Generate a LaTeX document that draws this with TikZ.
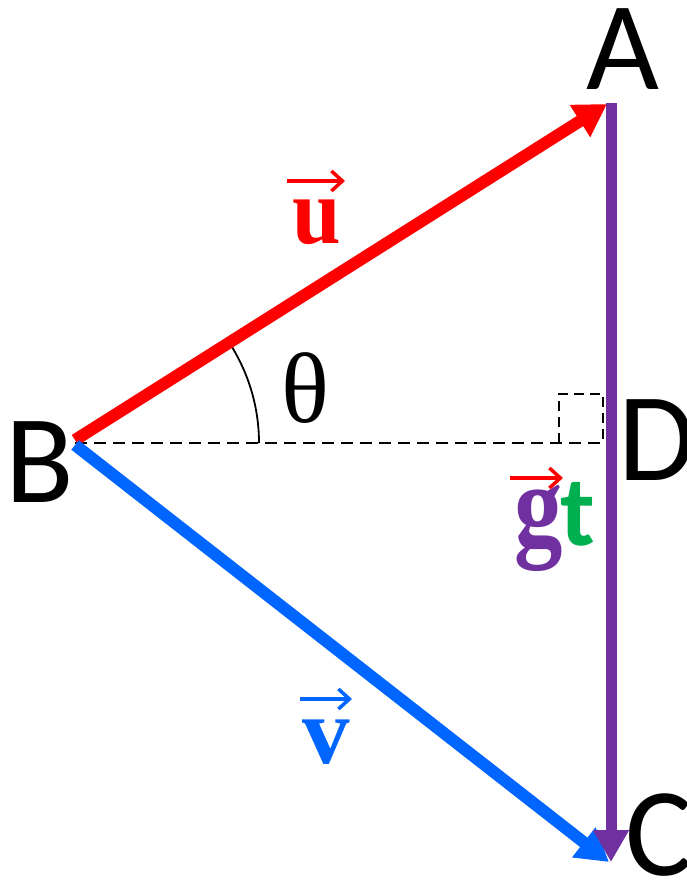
\documentclass[tikz,border=0pt]{standalone}
\usepackage{fontspec}
\usepackage{graphicx}
\usetikzlibrary{arrows.meta}
\newfontfamily\lblfont{Carlito}
\newfontfamily\serfont{Liberation Serif}
\definecolor{vred}{HTML}{FF0000}
\definecolor{vblue}{HTML}{0066FF}
\definecolor{vpurple}{HTML}{7030A0}
\definecolor{vgreen}{HTML}{00B050}
\tikzset{
  vertexlbl/.style={inner sep=0pt, anchor=base, font=\lblfont\fontsize{126}{126}\selectfont},
  vecline/.style={line width=12pt, -{Triangle[length=32pt,width=36pt]}},
  smallarrow/.style={line width=4pt, -{Straight Barb[length=11pt,width=20pt,line width=3.5pt]}},
  veclbl/.style={inner sep=0pt, anchor=base, font=\serfont\bfseries\fontsize{95}{95}\selectfont},
  helper/.style={black, line width=2pt, dash pattern=on 12pt off 7pt},
}
\begin{document}
\begin{tikzpicture}[x=1pt,y=-1pt]
\useasboundingbox (0,0) rectangle (687,880);
% key points
\coordinate (Bu) at (75,440);
\coordinate (Bv) at (75,445);
\coordinate (B) at (75,443);
\coordinate (A) at (611,103);
\coordinate (Au) at (607,104);
\coordinate (C) at (611,862);
\coordinate (Cv) at (609,862);
\coordinate (D) at (611,443);
\coordinate (arcend) at (259,443);
% dashed construction line
\draw[helper] (B) -- (D);
% right-angle mark
\coordinate (sq1) at (603,443);
\coordinate (sq2) at (559,443);
\coordinate (sq3) at (559,394);
\coordinate (sq4) at (603,394);
\draw[helper, dash pattern=on 10pt off 6pt] (sq2) -- (sq3) -- (sq4) -- (sq1);
% angle arc
\draw[black, line width=1.8pt] (arcend) arc[start angle=0, end angle=-32.3, radius=184];
% vectors
\draw[vecline, vred] (Bu) -- (Au);
\draw[vecline, vblue] (Bv) -- (Cv);
\draw[line width=11pt, vpurple, -{Triangle[length=32pt,width=34pt]}] (A) -- (C);
% vertex labels
\node[vertexlbl] (lA) at (623,90) {A};
\node[vertexlbl] (lB) at (40,502) {B};
\node[vertexlbl] (lC) at (659,875) {C};
\node[vertexlbl] (lD) at (657,480) {D};
% theta
\node[inner sep=0pt, anchor=base, font=\serfont\fontsize{100}{100}\selectfont] (th) at (305,422) {θ};
% vector labels
\node[veclbl, vred] (lu) at (317,243) {\scalebox{0.92}[1]{u}};
\coordinate (ua) at (287,181);
\coordinate (ub) at (345,181);
\draw[smallarrow, vred] (ua) -- (ub);
\node[veclbl, vblue] (lv) at (326,763) {v};
\coordinate (va) at (300,699);
\coordinate (vb) at (352,699);
\draw[smallarrow, vblue] (va) -- (vb);
\node[inner sep=0pt, anchor=base, font=\serfont\bfseries\fontsize{118}{118}\selectfont, vpurple] (lg) at (539,545) {\scalebox{0.82}[1]{g}};
\node[inner sep=0pt, anchor=base, font=\lblfont\bfseries\fontsize{100}{100}\selectfont, vgreen] (lt) at (578,545) {t};
\coordinate (ga) at (510,478);
\coordinate (gb) at (563,478);
\draw[smallarrow, vred] (ga) -- (gb);
\end{tikzpicture}
\end{document}
